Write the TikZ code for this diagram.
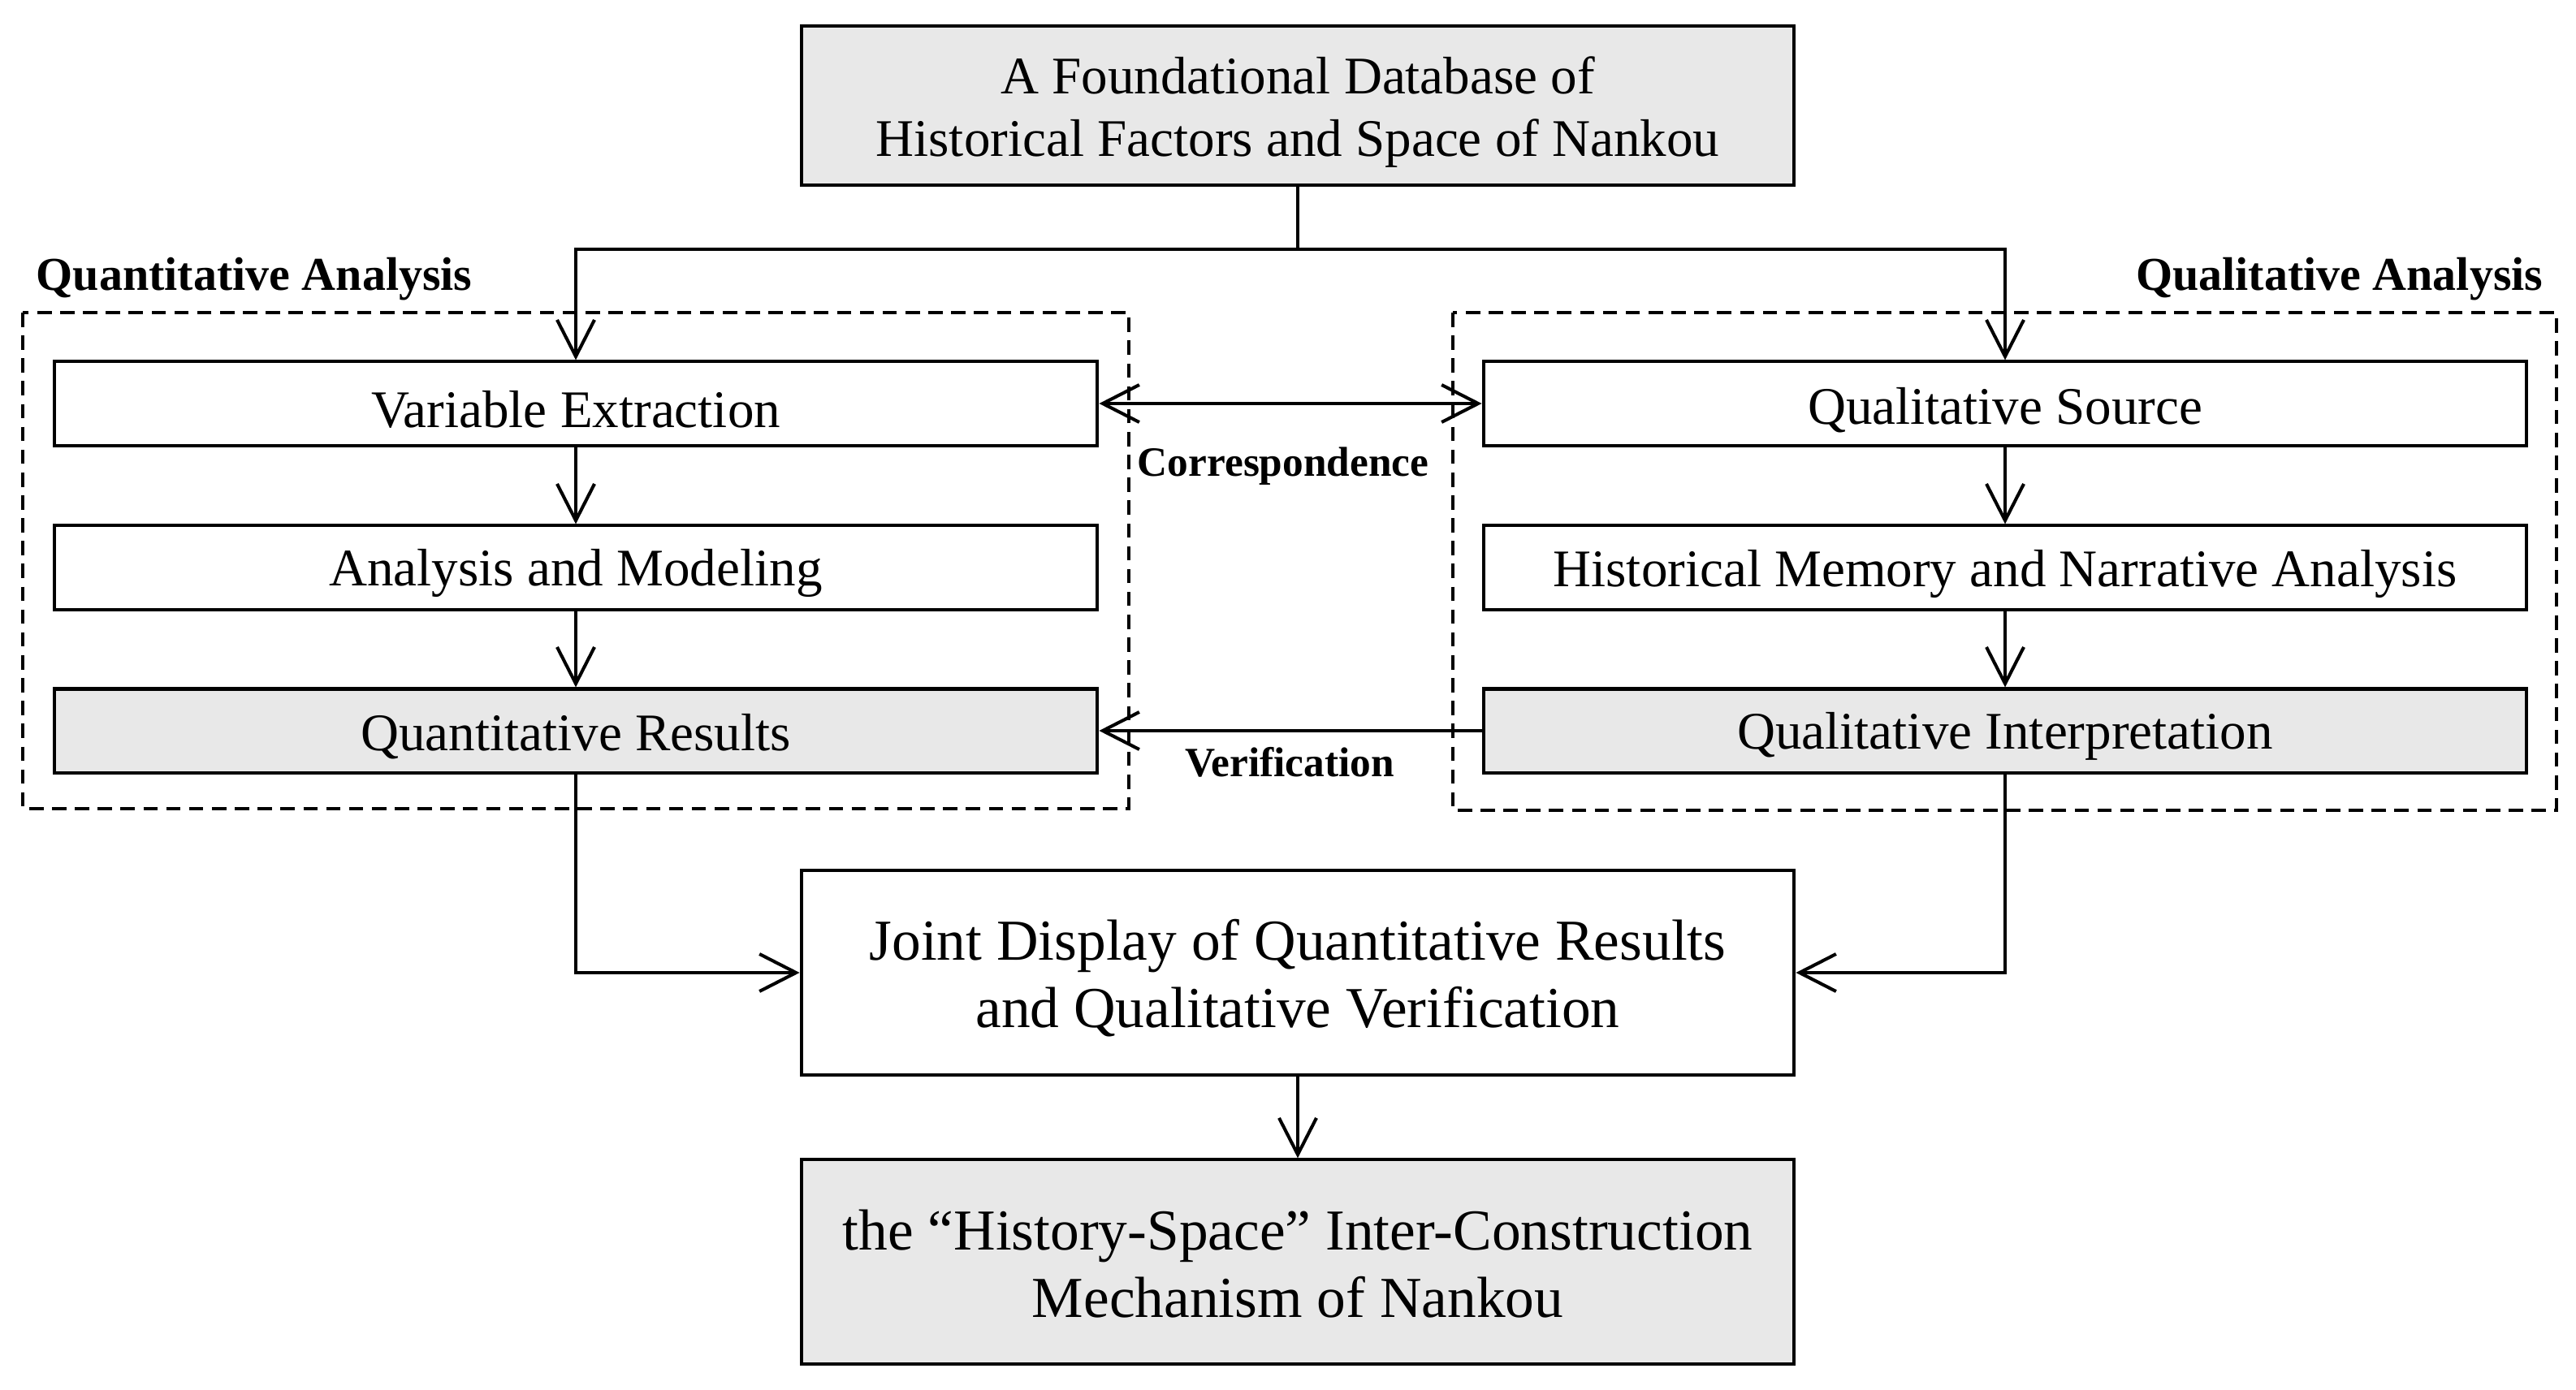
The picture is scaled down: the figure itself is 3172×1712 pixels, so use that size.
\documentclass[tikz,border=0pt]{standalone}
\usepackage{fontspec}
\setmainfont{Liberation Serif}
\usetikzlibrary{arrows.meta}
\definecolor{boxgray}{RGB}{232,232,232}
\begin{document}
\begin{tikzpicture}[x=0.01cm,y=-0.01cm,
  lw/.style={line width=1.15pt},
  basebox/.style={draw,lw,inner sep=0pt,anchor=center},
  smallbox/.style={basebox,minimum width=12.84cm,minimum height=1.03cm},
  bigbox/.style={basebox,minimum width=12.22cm,minimum height=2.51cm},
  topbox/.style={basebox,minimum width=12.22cm,minimum height=1.95cm,fill=boxgray},
  grayfill/.style={fill=boxgray},
  txt/.style={inner sep=0pt,align=center,anchor=center},
  smalltext/.style={txt,font=\fontsize{18.5}{21.8}\selectfont},
  toptext/.style={txt,font=\fontsize{18.5}{22}\selectfont},
  bigtext/.style={txt,font=\fontsize{20.3}{23.6}\selectfont},
  grp/.style={draw,lw,dash pattern=on 5pt off 3pt},
  grplabel/.style={font=\fontsize{16.5}{19}\selectfont\bfseries,inner sep=0pt},
  conlabel/.style={font=\fontsize{14.6}{17}\selectfont\bfseries,inner sep=0pt},
  arr/.style={lw,-{Straight Barb[length=0.45cm,width=0.46cm]}},
  arrtwo/.style={lw,{Straight Barb[length=0.45cm,width=0.46cm]}-{Straight Barb[length=0.45cm,width=0.46cm]}}
]
\useasboundingbox (0,0) rectangle (3172,1712);

% group frames
\draw[grp] (28,385) rectangle (1390,996);
\draw[grp] (1789,385) rectangle (3148,998);
\node[grplabel,anchor=west] (qnlab) at (44,344) {Quantitative Analysis};
\node[grplabel,anchor=east] (qllab) at (3132,344) {Qualitative Analysis};

% top box
\node[topbox] (top) at (1598,130) {};
\node[toptext] (toptxt) at (1598,138) {A Foundational Database of\\Historical Factors and Space of Nankou};

% left column
\node[smallbox] (ve) at (709,497) {};
\node[smalltext] (vetxt) at (709,504) {Variable Extraction};
\node[smallbox] (am) at (709,699) {};
\node[smalltext] (amtxt) at (709,706) {Analysis and Modeling};
\node[smallbox,grayfill] (qr) at (709,900) {};
\node[smalltext] (qrtxt) at (709,907) {Quantitative Results};

% right column
\node[smallbox] (qs) at (2469,497) {};
\node[smalltext] (qstxt) at (2469,505) {Qualitative Source};
\node[smallbox] (hm) at (2469,699) {};
\node[smalltext] (hmtxt) at (2469,707) {Historical Memory and Narrative Analysis};
\node[smallbox,grayfill] (qi) at (2469,900) {};
\node[smalltext] (qitxt) at (2469,907) {Qualitative Interpretation};

% bottom boxes
\node[bigbox] (joint) at (1598,1198) {};
\node[bigtext] (jointtxt) at (1598,1205) {Joint Display of Quantitative Results\\and Qualitative Verification};
\node[bigbox,grayfill] (final) at (1598,1554) {};
\node[bigtext] (finaltxt) at (1598,1557) {the \textquotedblleft History-Space\textquotedblright{} Inter-Construction\\Mechanism of Nankou};

% connectors
\coordinate (split) at (1598,307);
\draw[lw] (top.south) -- (split);
\draw[arr] (split) -| (ve.north);
\draw[arr] (split) -| (qs.north);
\draw[arr] (ve) -- (am);
\draw[arr] (am) -- (qr);
\draw[arr] (qs) -- (hm);
\draw[arr] (hm) -- (qi);
\draw[arrtwo] (ve.east) -- (qs.west);
\draw[arr] (qi.west) -- (qr.east);
\draw[arr] (qr.south) |- (joint.west);
\draw[arr] (qi.south) |- (joint.east);
\draw[arr] (joint) -- (final);

\node[conlabel] (corr) at (1580,574) {Correspondence};
\node[conlabel] (verif) at (1588,939) {Verification};
\end{tikzpicture}
\end{document}
